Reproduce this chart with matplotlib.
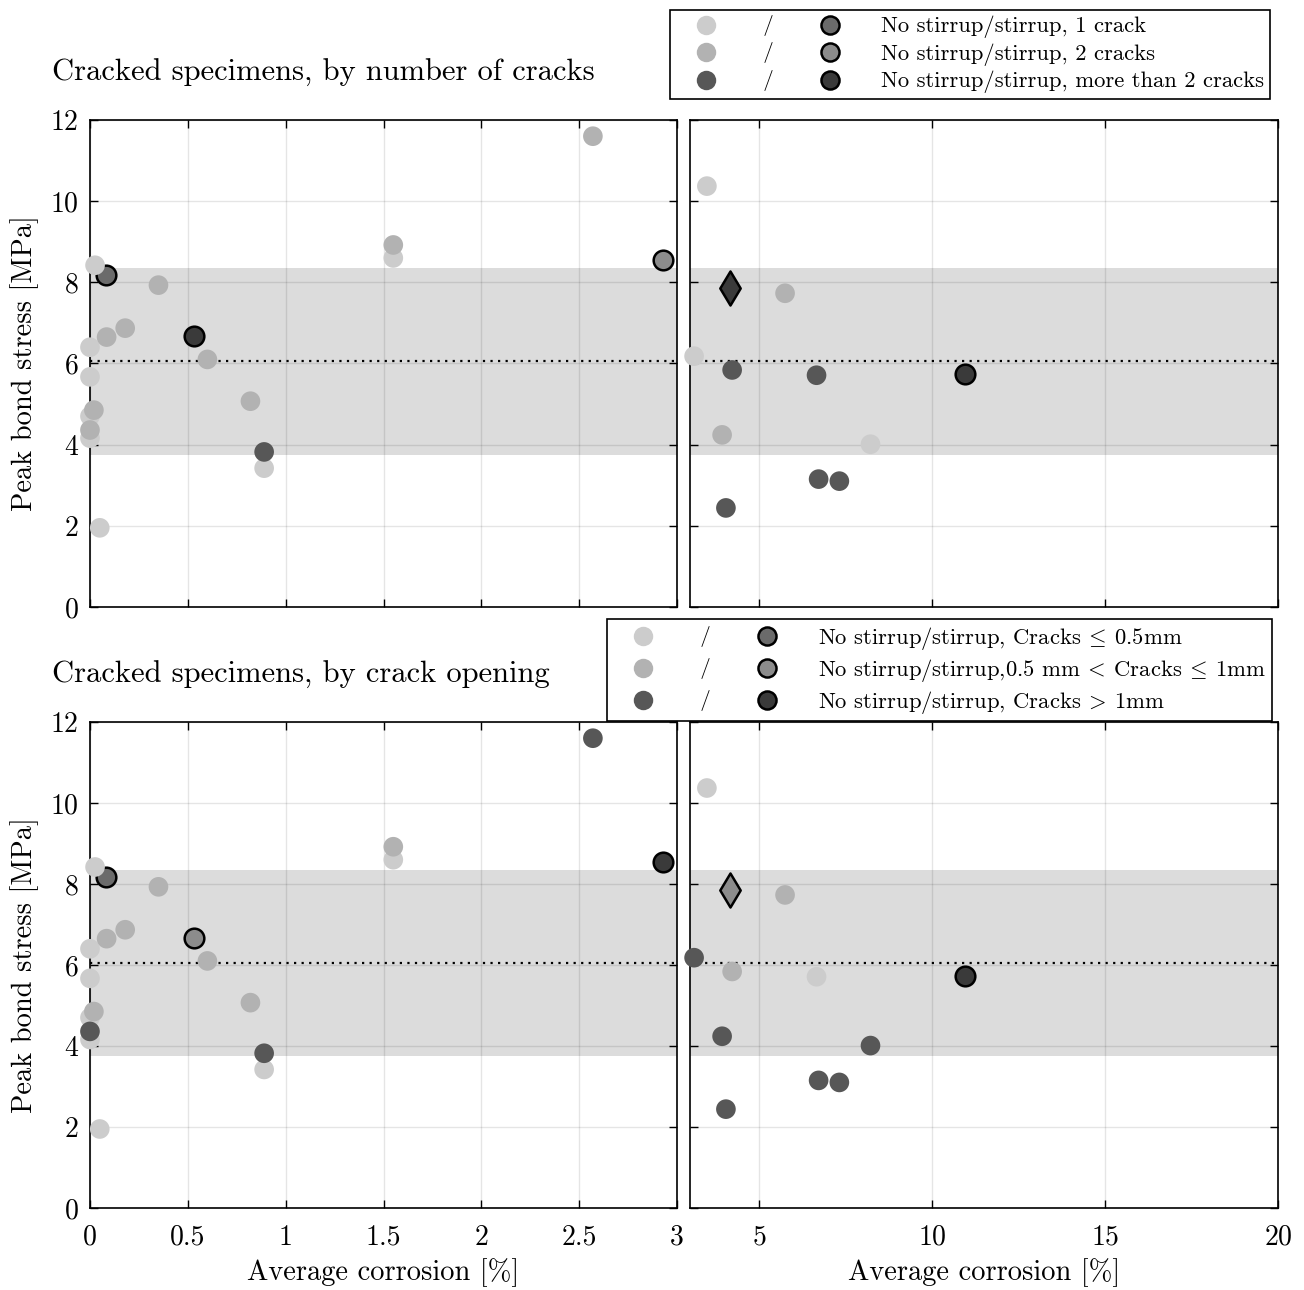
import matplotlib
matplotlib.use("Agg")
import matplotlib.pyplot as plt
from matplotlib.lines import Line2D
from matplotlib.legend_handler import HandlerTuple

plt.rcParams['font.family'] = 'cmr10'
plt.rcParams['mathtext.fontset'] = 'cm'
plt.rcParams['axes.formatter.use_mathtext'] = True

# specimen data: average corrosion [%] and peak bond stress [MPa]
corrosion = [0.026, 0.08, 0.35, 0.18, 0.085, 0.0, 0.53, 0.60, 0.0, 0.82,
             0.02, 0.0, 0.0, 0.0, 0.89, 0.89, 0.05, 2.57, 1.55, 1.55,
             2.93, 3.49, 4.16, 5.75, 3.12, 4.22, 6.66, 10.95, 3.93, 8.22,
             6.72, 7.32, 4.04]
peak_stress = [8.42, 8.18, 7.93, 6.87, 6.65, 6.40, 6.67, 6.10, 5.67, 5.07,
               4.85, 4.70, 4.36, 4.16, 3.82, 3.42, 1.95, 11.60, 8.92, 8.60,
               8.55, 10.37, 7.86, 7.73, 6.18, 5.84, 5.71, 5.74, 4.24, 4.01,
               3.15, 3.10, 2.44]
# n = no stirrup, s = stirrup; 1/2/3 = crack class
group_cracks = ['n1', 's1', 'n2', 'n2', 'n2', 'n1', 's3', 'n2', 'n1', 'n2',
                'n2', 'n1', 'n2', 'n1', 'n3', 'n1', 'n1', 'n2', 'n2', 'n1',
                's2', 'n1', 's3', 'n2', 'n1', 'n3', 'n3', 's3', 'n2', 'n1',
                'n3', 'n3', 'n3']
group_opening = ['n1', 's1', 'n2', 'n2', 'n2', 'n1', 's2', 'n2', 'n1', 'n2',
                 'n2', 'n1', 'n3', 'n1', 'n3', 'n1', 'n1', 'n3', 'n2', 'n1',
                 's3', 'n1', 's2', 'n2', 'n3', 'n2', 'n1', 's3', 'n3', 'n3',
                 'n3', 'n3', 'n3']
marker_shape = ['o'] * 22 + ['d'] + ['o'] * 10

band_low, band_high, mean_stress = 3.75, 8.35, 6.05

colors = {'n1': '#cccccc', 'n2': '#b2b2b2', 'n3': '#575757',
          's1': '#6b6b6b', 's2': '#8c8c8c', 's3': '#3a3a3a'}
draw_order = ['s1', 's2', 's3', 'n1', 'n2', 'n3']

titles = ['Cracked specimens, by number of cracks',
          'Cracked specimens, by crack opening']
legend_labels = [
    ['No stirrup/stirrup, 1 crack',
     'No stirrup/stirrup, 2 cracks',
     'No stirrup/stirrup, more than 2 cracks'],
    [r'No stirrup/stirrup, Cracks$\:\leq\:$0.5mm',
     r'No stirrup/stirrup,0.5 mm$\:<\:$Cracks$\:\leq\:$1mm',
     r'No stirrup/stirrup, Cracks$\:>\:$1mm'],
]

fig = plt.figure(figsize=(13.04, 12.9), dpi=100)
rows = [(0.5295, 0.3775), (0.0636, 0.3767)]
legend_anchor = [(0.974, 0.992), (0.9755, 0.520)]


def style_axes(ax):
    ax.set_ylim(0, 12)
    ax.set_yticks(range(0, 13, 2))
    ax.axhspan(band_low, band_high, color='#dcdcdc', lw=0, zorder=1)
    ax.axhline(mean_stress, color='k', lw=1.6, ls=(0, (1, 2.4)), zorder=1.6)
    ax.grid(True, color='k', alpha=0.1, lw=1)
    ax.set_axisbelow('line')
    ax.tick_params(direction='in', top=True, right=True, length=6, width=1,
                   labelsize=20, pad=8)
    ax.tick_params(axis='x', pad=12)
    for sp in ax.spines.values():
        sp.set_linewidth(1.2)


for r, groups in enumerate([group_cracks, group_opening]):
    y0, h = rows[r]
    ax_l = fig.add_axes([0.0690, y0, 0.4502, h])
    ax_r = fig.add_axes([0.5291, y0, 0.4509, h])
    style_axes(ax_l)
    style_axes(ax_r)
    ax_l.set_xlim(0, 3)
    ax_l.set_xticks([0, 0.5, 1, 1.5, 2, 2.5, 3])
    ax_l.set_xticklabels(['0', '0.5', '1', '1.5', '2', '2.5', '3'])
    ax_r.set_xlim(3, 20)
    ax_r.set_xticks([5, 10, 15, 20])
    ax_r.set_yticklabels([])
    ax_l.set_ylabel('Peak bond stress [MPa]', fontsize=20.5, labelpad=8)
    if r == 1:
        ax_l.set_xlabel('Average corrosion [%]', fontsize=20.5, labelpad=5)
        ax_r.set_xlabel('Average corrosion [%]', fontsize=20.5, labelpad=5)
    else:
        ax_l.set_xticklabels([])
        ax_r.set_xticklabels([])
    ax_l.set_title(titles[r], fontsize=22, loc='left', x=-0.065, pad=28)

    for g in draw_order:
        for ax, inside in [(ax_l, lambda v: v <= 3), (ax_r, lambda v: v > 3)]:
            for shape in ['o', 'd']:
                xs = [x for x, gg, m in zip(corrosion, groups, marker_shape)
                      if gg == g and m == shape and inside(x)]
                ys = [y for x, y, gg, m in zip(corrosion, peak_stress, groups, marker_shape)
                      if gg == g and m == shape and inside(x)]
                if not xs:
                    continue
                stirrup = g.startswith('s')
                ax.scatter(xs, ys, s=200 if shape == 'o' else 300, marker=shape,
                           c=colors[g],
                           edgecolors='k' if stirrup else 'none',
                           linewidths=1.8 if stirrup else 0,
                           zorder=3, clip_on=False)

    handles = []
    for k in ['1', '2', '3']:
        h_n = Line2D([], [], ls='none', marker='o', ms=14, color=colors['n' + k],
                     markeredgewidth=0)
        h_sl = Line2D([], [], ls='none', marker='$/$', ms=15, color='k',
                      markeredgewidth=0)
        h_s = Line2D([], [], ls='none', marker='o', ms=13, markerfacecolor=colors['s' + k],
                     markeredgecolor='k', markeredgewidth=1.8)
        handles.append((h_n, h_sl, h_s))
    leg = fig.legend(handles, legend_labels[r], loc='upper right',
                     bbox_to_anchor=legend_anchor[r], borderaxespad=0,
                     handler_map={tuple: HandlerTuple(ndivide=None, pad=0)},
                     handlelength=8.2, handletextpad=0.9, labelspacing=0.22,
                     fontsize=16.3, fancybox=False, edgecolor='k',
                     framealpha=1, borderpad=0.25)
    leg.get_frame().set_linewidth(1.2)

fig.savefig('out.png', dpi=100)
